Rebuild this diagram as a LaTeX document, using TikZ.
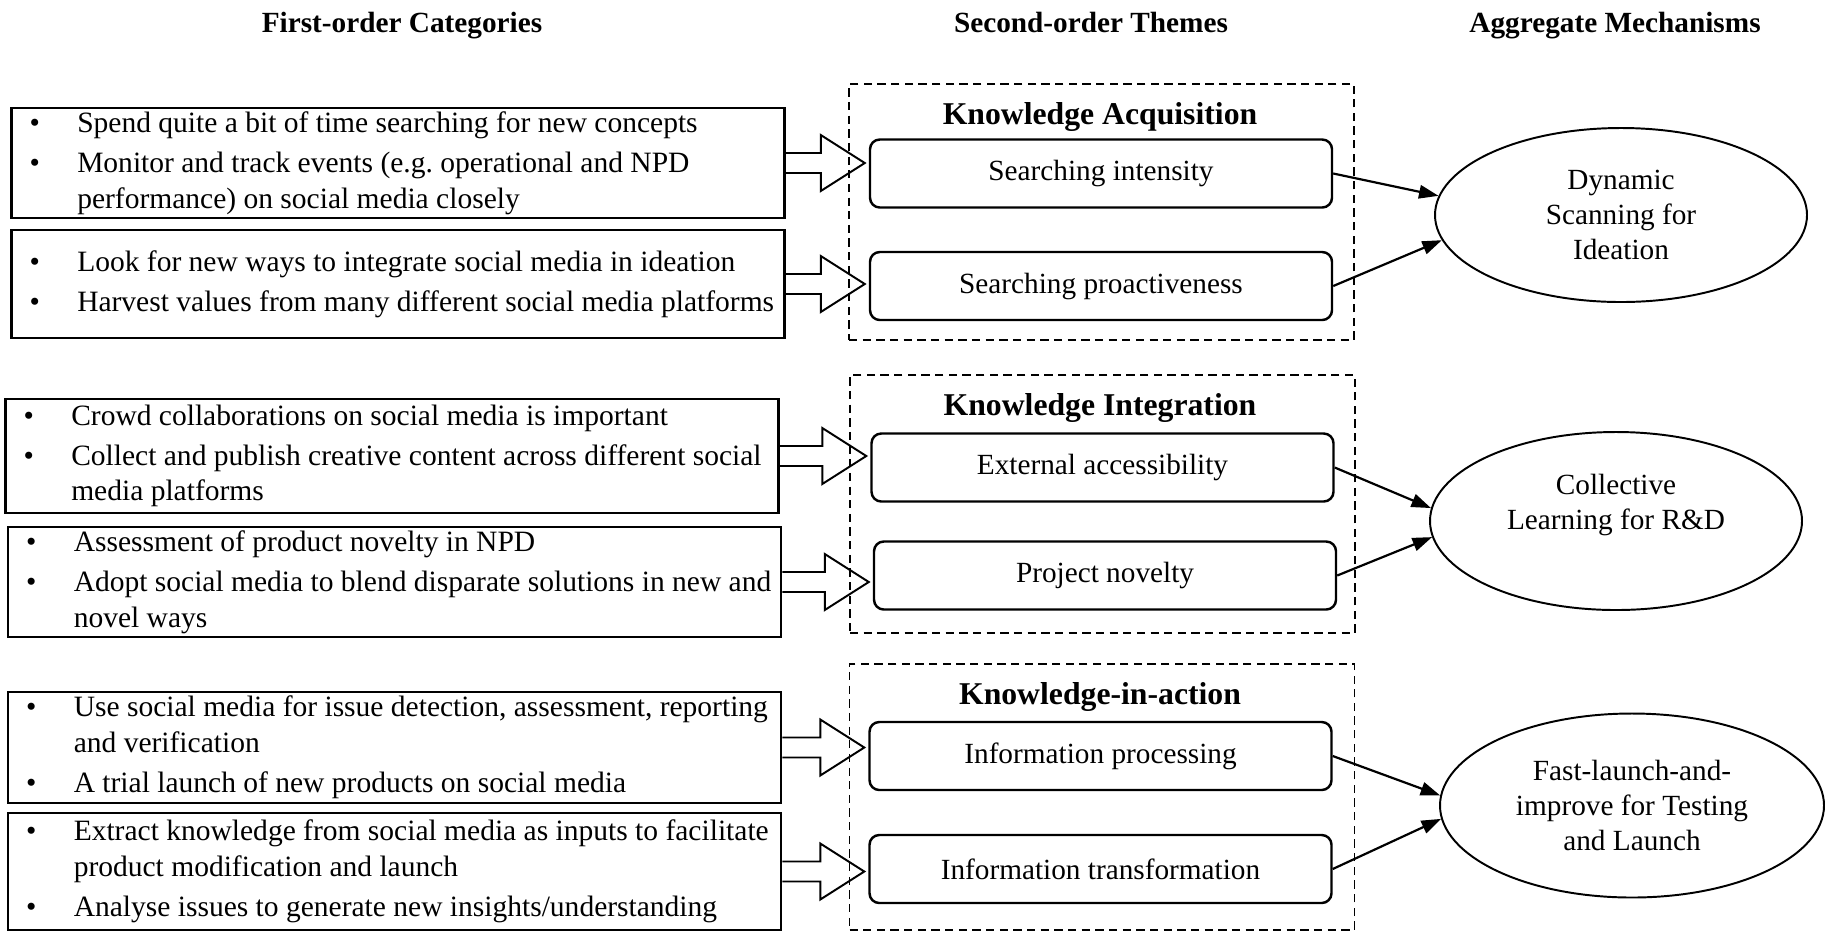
\documentclass[tikz,border=0pt]{standalone}
\usepackage{fontspec}
\setmainfont{Liberation Serif}
\usepackage{tikz}
\usetikzlibrary{shapes, arrows.meta, positioning, calc}
\frenchspacing
\newdimen\pxu \pxu=0.41pt
\newcommand{\bul}[1]{\hspace*{7.5pt}\makebox[19.5pt][l]{\textbullet}\mbox{#1}}
\newcommand{\bulcont}[1]{\hspace*{27pt}\mbox{#1}}
\tikzstyle{heading} = [font=\bfseries\fontsize{12}{14.4}\selectfont, anchor=base]
\tikzstyle{category} = [draw, line width=1pt, rectangle, inner xsep=0pt, inner ysep=0pt, text width=317pt, align=flush left, font=\fontsize{12.1}{14.5}\selectfont]
\tikzstyle{themegroup} = [draw, dash pattern=on 3.4pt off 2.2pt, line width=0.6pt, rectangle, minimum width=505*\pxu, inner sep=0pt]
\tikzstyle{grouptitle} = [font=\bfseries\fontsize{13}{15.6}\selectfont]
\tikzstyle{theme} = [draw, line width=1pt, rectangle, rounded corners=4pt, minimum width=462*\pxu, minimum height=68*\pxu, inner sep=0pt]
\tikzstyle{mechanism} = [draw, line width=0.8pt, ellipse, inner sep=0pt, align=center]
\tikzstyle{fatarrow} = [line width=0.8pt, line join=miter]
\tikzstyle{link} = [line width=0.9pt, -{Triangle[length=8pt,width=5.5pt]}]
\newcommand{\fatarrow}[2]{%
  \draw[fatarrow] ($(#1.east)+(0,-10)$) -- ($(#1.east -| #2.west)+(-48,-10)$) -- ++(0,-18)
    -- ($(#1.east -| #2.west)+(-4,0)$) -- ($(#1.east -| #2.west)+(-48,28)$) -- ++(0,-18)
    -- ($(#1.east)+(0,10)$);}

\begin{document}
\begin{tikzpicture}[x=0.41pt, y=-0.41pt, font=\fontsize{12}{14.5}\selectfont]
	\useasboundingbox (0,0) rectangle (1825,932);
	% column headings
	\node[heading] (hcat) at (402,32) {First-order Categories};
	\node[heading] (htheme) at (1091,32) {Second-order Themes};
	\node[heading] (hmech) at (1615,32) {Aggregate Mechanisms};

	% knowledge acquisition
	\node[themegroup, minimum height=256*\pxu] (g1) at (1101.5,212) {};
	\node[grouptitle] (t1) at (1100,117) {Knowledge Acquisition};
	\node[theme] (r1) at (1101,173.5) {Searching intensity};
	\node[theme] (r2) at (1101,286) {Searching proactiveness};
	\node[mechanism, minimum width=372*\pxu, minimum height=174*\pxu] (e1) at (1621,215) {Dynamic\\Scanning for\\Ideation};
	\node[category, minimum height=110*\pxu] (b1) at (398,163) {%
		\bul{Spend quite a bit of time searching for new concepts}\\[2pt]
		\bul{Monitor and track events (e.g. operational and NPD}\\
		\bulcont{performance) on social media closely}};
	\node[category, minimum height=108*\pxu] (b2) at (398,284) {%
		\bul{Look for new ways to integrate social media in ideation}\\[2pt]
		\bul{Harvest values from many different social media platforms}};

	% knowledge integration
	\node[themegroup, minimum height=258*\pxu] (g2) at (1102.5,504) {};
	\node[grouptitle] (t2) at (1100,408) {Knowledge Integration};
	\node[theme] (r3) at (1102.5,467.5) {External accessibility};
	\node[theme] (r4) at (1105,575.5) {Project novelty};
	\node[mechanism, minimum width=372*\pxu, minimum height=178*\pxu] (e2) at (1616,521) {};
	\node[align=center] (e2label) at (1616,505) {Collective\\Learning for R\&D};
	\node[category, minimum height=114*\pxu] (b3) at (392,456) {%
		\bul{Crowd collaborations on social media is important}\\[2pt]
		\bul{Collect and publish creative content across different social}\\
		\bulcont{media platforms}};
	\node[category, minimum height=110*\pxu] (b4) at (394.5,582) {%
		\bul{Assessment of product novelty in NPD}\\[2pt]
		\bul{Adopt social media to blend disparate solutions in new and}\\
		\bulcont{novel ways}};

	% knowledge-in-action
	\node[themegroup, minimum height=266*\pxu] (g3) at (1102,797) {};
	\node[grouptitle] (t3) at (1100,697) {Knowledge-in-action};
	\node[theme] (r5) at (1100.5,756) {Information processing};
	\node[theme] (r6) at (1100.5,869) {Information transformation};
	\node[mechanism, minimum width=384*\pxu, minimum height=184*\pxu] (e3) at (1632,805.5) {Fast-launch-and-\\improve for Testing\\and Launch};
	\node[category, minimum height=111*\pxu] (b5) at (394.5,747.5) {%
		\bul{Use social media for issue detection, assessment, reporting}\\
		\bulcont{and verification}\\[2pt]
		\bul{A trial launch of new products on social media}};
	\node[category, minimum height=117*\pxu] (b6) at (394.5,871.5) {%
		\bul{Extract knowledge from social media as inputs to facilitate}\\
		\bulcont{product modification and launch}\\[2pt]
		\bul{Analyse issues to generate new insights/understanding}};

	% block arrows into the themes
	\fatarrow{b1}{r1}
	\fatarrow{b2}{r2}
	\fatarrow{b3}{r3}
	\fatarrow{b4}{r4}
	\fatarrow{b5}{r5}
	\fatarrow{b6}{r6}

	% themes to mechanisms
	\draw[link] (r1.east) -- (e1.174);
	\draw[link] (r2.east) -- (e1.188);
	\draw[link] (r3.east) -- (e2.176);
	\draw[link] (r4.east) -- (e2.185);
	\draw[link] (r5.east) -- (e3.177);
	\draw[link] (r6.east) -- (e3.184);
\end{tikzpicture}
\end{document}
